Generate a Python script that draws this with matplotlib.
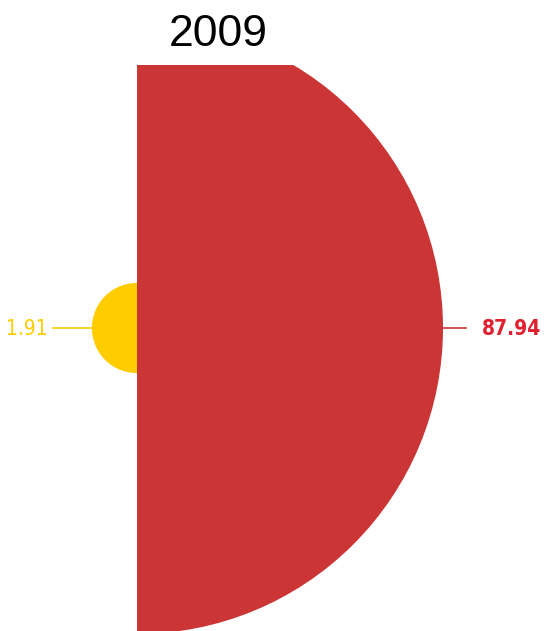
import matplotlib
matplotlib.use("Agg")
import matplotlib.pyplot as plt
from matplotlib.patches import Wedge, Rectangle
import numpy as np

title = "2009"
values = [1.91, 87.94]
labels = ["1.91", "87.94"]
colors = ["#FFCC00", "#CC3535"]
label_colors = ["#FFCC00", "#E0202F"]

fig = plt.figure(figsize=(5.46, 6.31), dpi=100)
ax = fig.add_axes([0, 0, 1, 1])
ax.set_xlim(0, 546)
ax.set_ylim(631, 0)
ax.axis("off")

cx, cy = 137, 328
scale = 306 / np.sqrt(max(values))

# plot area clip (top is cut)
clip = Rectangle((0, 65), 546, 570, transform=ax.transData, visible=False)
ax.add_patch(clip)

# yellow on left, red on right
angles = [(90, 270), (-90, 90)]
for v, c, (a0, a1) in zip(values, colors, angles):
    r = scale * np.sqrt(v)
    w = Wedge((cx, cy), r, a0, a1, facecolor=c, edgecolor="none")
    ax.add_patch(w)
    w.set_clip_path(clip)

# leader lines + labels
r_y = scale * np.sqrt(values[0])
r_r = scale * np.sqrt(values[1])
ax.plot([cx - r_y - 39, cx - r_y], [cy, cy], color=colors[0], lw=1.2)
ax.text(cx - r_y - 44, cy + 1, labels[0], color=label_colors[0], fontsize=15,
        family="DejaVu Sans", fontstretch="condensed", ha="right", va="center")
ax.plot([cx + r_r, cx + r_r + 23], [cy, cy], color=colors[1], lw=1.2)
ax.text(541, cy + 1, labels[1], color=label_colors[1], fontsize=15,
        family="DejaVu Sans", fontstretch="condensed", fontweight="bold",
        ha="right", va="center")

ax.text(218, 34, title, fontsize=32, family="Liberation Sans", ha="center", va="center")

fig.savefig("out.png", dpi=100)
